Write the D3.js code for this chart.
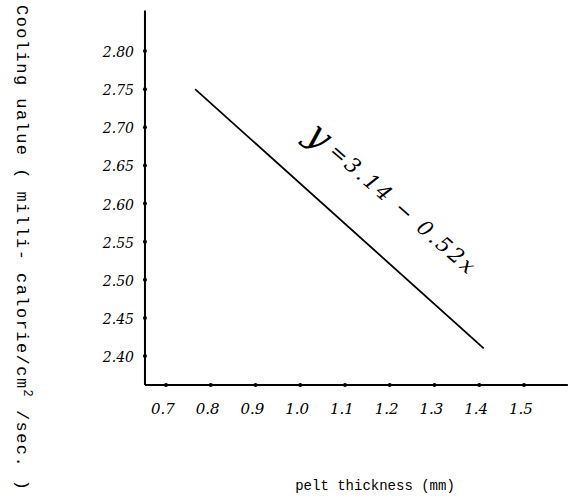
<!DOCTYPE html>
<html>
<head>
<meta charset="utf-8">
<script src="https://cdn.jsdelivr.net/npm/d3@7"></script>
<style>
  body { margin: 0; background: #fff; }
  svg { display: block; }
</style>
</head>
<body>
<div class="chart"></div>
<script>
// tick values
var xTicks = [0.7, 0.8, 0.9, 1.0, 1.1, 1.2, 1.3, 1.4, 1.5];
var xTickLabels = ["0.7", "0.8", "0.9", "1.0", "1.1", "1.2", "1.3", "1.4", "1.5"];
var yTicks = [2.40, 2.45, 2.50, 2.55, 2.60, 2.65, 2.70, 2.75, 2.80];
var yTickLabels = ["2.40", "2.45", "2.50", "2.55", "2.60", "2.65", "2.70", "2.75", "2.80"];

// the fitted line, end points as drawn
var lineX = [0.765, 1.41];
var lineY = [2.75, 2.41];

var svgWidth = 570;
var svgHeight = 502;

var svg = d3.select(".chart")
  .append("svg")
  .attr("width", svgWidth)
  .attr("height", svgHeight);

var xScale = d3.scaleLinear().domain([0.7, 1.5]).range([166, 524]);
var yScale = d3.scaleLinear().domain([2.40, 2.80]).range([356, 51]);

var axisLeftX = xScale(0.653);
var axisBottomY = yScale(2.362);

// y axis
svg.append("line")
  .attr("x1", axisLeftX).attr("x2", axisLeftX)
  .attr("y1", yScale(2.853)).attr("y2", axisBottomY)
  .attr("stroke", "#000").attr("stroke-width", 2);

// x axis
svg.append("line")
  .attr("x1", axisLeftX).attr("x2", xScale(1.598))
  .attr("y1", axisBottomY).attr("y2", axisBottomY)
  .attr("stroke", "#000").attr("stroke-width", 2);

// tick dots on y axis
svg.selectAll(".ydot")
  .data(yTicks)
  .enter().append("circle")
  .attr("class", "ydot")
  .attr("cx", axisLeftX)
  .attr("cy", d => yScale(d))
  .attr("r", 2)
  .attr("fill", "#000");

svg.selectAll(".ylab")
  .data(yTicks)
  .enter().append("text")
  .attr("class", "ylab")
  .attr("x", 134)
  .attr("y", d => yScale(d) + 6)
  .attr("text-anchor", "end")
  .attr("font-family", "DejaVu Serif, serif")
  .attr("font-style", "italic")
  .attr("font-size", "14px")
  .attr("fill", "#000")
  .text((d, i) => yTickLabels[i]);

// tick dots on x axis
svg.selectAll(".xdot")
  .data(xTicks)
  .enter().append("circle")
  .attr("class", "xdot")
  .attr("cx", d => xScale(d))
  .attr("cy", axisBottomY)
  .attr("r", 2)
  .attr("fill", "#000");

svg.selectAll(".xlab")
  .data(xTicks)
  .enter().append("text")
  .attr("class", "xlab")
  .attr("x", d => xScale(d) - 3)
  .attr("y", axisBottomY + 29)
  .attr("text-anchor", "middle")
  .attr("font-family", "DejaVu Serif, serif")
  .attr("font-style", "italic")
  .attr("font-size", "15px")
  .attr("fill", "#000")
  .text((d, i) => xTickLabels[i]);

// fitted line
svg.append("line")
  .attr("x1", xScale(lineX[0])).attr("y1", yScale(lineY[0]))
  .attr("x2", xScale(lineX[1])).attr("y2", yScale(lineY[1]))
  .attr("stroke", "#000")
  .attr("stroke-width", 1.8);

// equation written along the line
var eq = svg.append("g")
  .attr("transform", "translate(304,138) rotate(41)");
eq.append("text")
  .attr("x", 0).attr("y", 0)
  .attr("font-family", "DejaVu Serif, serif")
  .attr("font-style", "italic")
  .attr("font-size", "36px")
  .attr("fill", "#000")
  .text("y");
eq.append("text")
  .attr("x", 28).attr("y", -4)
  .attr("font-family", "DejaVu Serif, serif")
  .attr("font-style", "italic")
  .attr("font-size", "21px")
  .attr("fill", "#000")
  .attr("textLength", 185)
  .attr("lengthAdjust", "spacing")
  .text("=3.14 \u2212 0.52x");

// axis titles
svg.append("text")
  .attr("x", 375)
  .attr("y", 490)
  .attr("text-anchor", "middle")
  .attr("font-family", "Liberation Mono, monospace")
  .attr("font-size", "14px")
  .attr("fill", "#000")
  .text("pelt thickness (mm)");

svg.append("text")
  .attr("transform", "translate(17,5) rotate(90)")
  .attr("x", 0)
  .attr("y", 0)
  .attr("font-family", "Liberation Mono, monospace")
  .attr("font-size", "17px")
  .attr("fill", "#000")
  .attr("textLength", 485)
  .attr("lengthAdjust", "spacing")
  .html("Cooling ualue ( milli- calorie/cm<tspan dy='-7' font-size='12px'>2</tspan><tspan dy='7'> /sec. )</tspan>");
</script>
</body>
</html>
